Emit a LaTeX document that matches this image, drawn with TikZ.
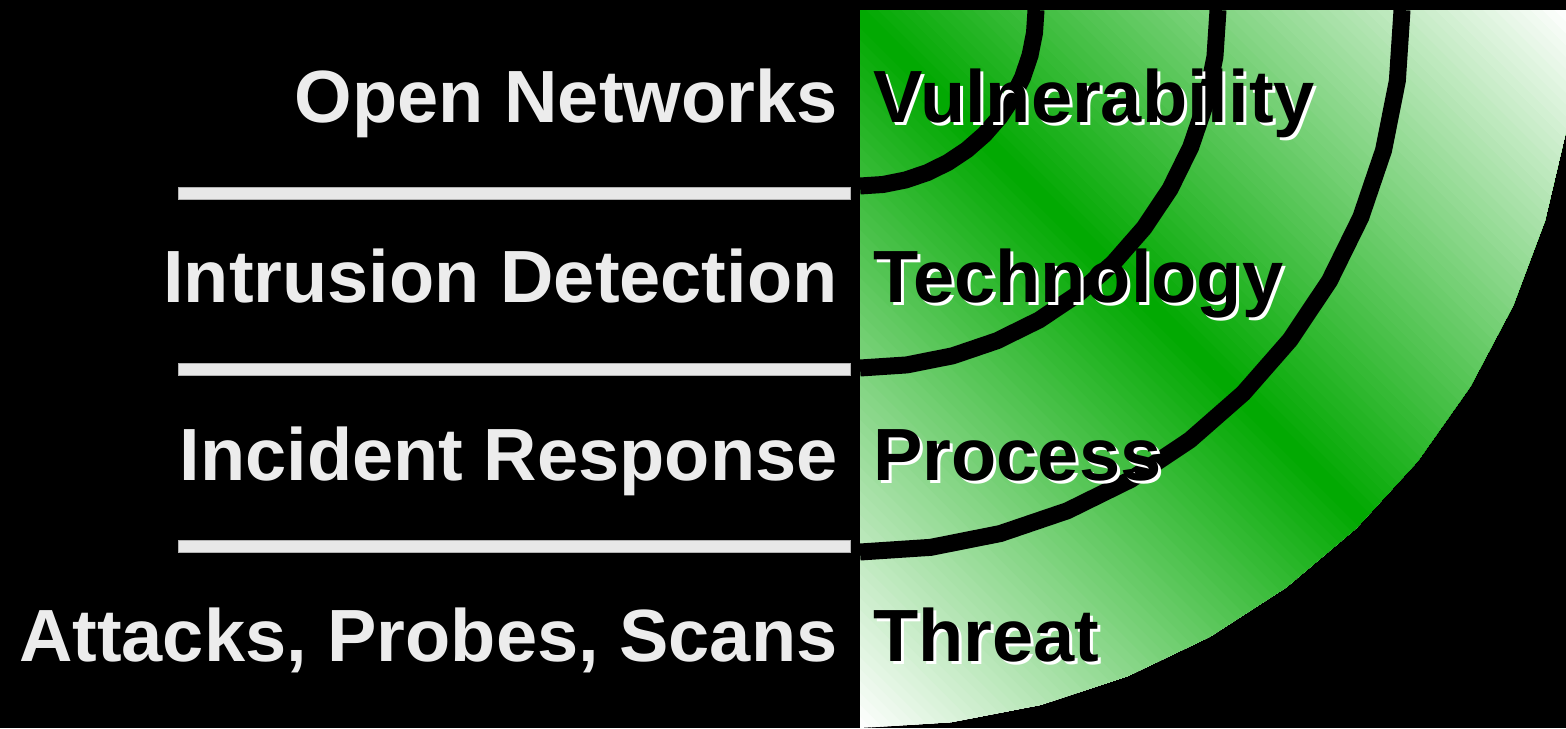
\documentclass[tikz,border=0pt]{standalone}
\usepackage{fontspec}
\setmainfont{Liberation Sans}
\definecolor{bandgreen}{RGB}{0,168,0}
\definecolor{labelgray}{HTML}{ECECEC}
\definecolor{rulegray}{HTML}{E8E8E8}
\tikzset{
  bigfont/.style={font=\fontsize{37}{40}\selectfont\bfseries},
  lefttext/.style={bigfont, text=labelgray, inner sep=0pt, anchor=base east},
  righttext/.style={bigfont, text=black, inner sep=0pt, anchor=base west},
  shadowtext/.style={righttext, text=white},
  ring/.style={draw=black, line width=8.5pt},
  rulebar/.style={fill=rulegray, draw=gray!60, line width=0.4pt},
}
\begin{document}
\begin{tikzpicture}[x=0.5pt, y=-0.5pt]
  % black canvas
  \fill[black] (0,0) rectangle (1566,728);
  \useasboundingbox (0,0) rectangle (1566,728);

  % quarter fan with a diagonal white-green-white gradient, painted in bands
  \pgfmathsetmacro\tstart{acos(706/716)}
  \begin{scope}
    \clip (860,10) -- (1566,10)
      -- plot[domain=\tstart:90, samples=12] ({860+716*cos(\x)},{12+716*sin(\x)})
      -- cycle;
    \foreach \i in {0,...,119} {
      \pgfmathsetmacro\a{\i*11.8667}
      \pgfmathsetmacro\m{(\i+0.5)*11.8667}
      \pgfmathsetmacro\p{100*(1-abs(\m-712)/712)}
      \fill[bandgreen!\p!white] ({100+\a},-32) -- ({900+\a},768) -- (2500,768) -- (2500,-32) -- cycle;
    }
  \end{scope}

  % concentric rings
  \draw[ring] plot[domain=0:90, samples=13] ({860+176*cos(\x)},{10+176*sin(\x)});
  \draw[ring] plot[domain=0:90, samples=13] ({860+358*cos(\x)},{10+358*sin(\x)});
  \draw[ring] plot[domain=0:90, samples=13] ({860+542*cos(\x)},{10+542*sin(\x)});

  % separator bars
  \filldraw[rulebar] (178,187) rectangle (850,199);
  \filldraw[rulebar] (178,363) rectangle (850,375);
  \filldraw[rulebar] (178,540) rectangle (850,552);

  % left labels
  \node[lefttext] (open)     at (838,122) {Open Networks};
  \node[lefttext] (ids)      at (838,302) {Intrusion Detection};
  \node[lefttext] (incident) at (838,480) {Incident Response};
  \node[lefttext] (attacks)  at (838,661) {Attacks, Probes, Scans};

  % right labels with white drop shadow
  \node[shadowtext] (vuln-sh)    at (876,125) {Vulnerability};
  \node[righttext]  (vuln)       at (873,122) {Vulnerability};
  \node[shadowtext] (tech-sh)    at (876,305) {Technology};
  \node[righttext]  (tech)       at (873,302) {Technology};
  \node[shadowtext] (process-sh) at (876,483) {Process};
  \node[righttext]  (process)    at (873,480) {Process};
  \node[shadowtext] (threat-sh)  at (876,664) {Threat};
  \node[righttext]  (threat)     at (873,661) {Threat};
\end{tikzpicture}
\end{document}
